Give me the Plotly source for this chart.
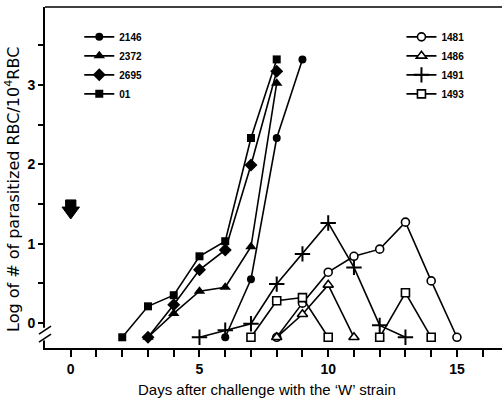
import plotly.graph_objects as go

BASE = -0.18  # "undetectable" level drawn below the axis break

days_2146 = [6, 7, 8, 9]
vals_2146 = [BASE, 0.55, 2.33, 3.32]
days_2372 = [3, 4, 5, 6, 7, 8]
vals_2372 = [BASE, 0.12, 0.40, 0.45, 0.96, 3.02]
days_2695 = [3, 4, 5, 6, 7, 8]
vals_2695 = [BASE, 0.23, 0.67, 0.92, 1.99, 3.17]
days_01 = [2, 3, 4, 5, 6, 7, 8]
vals_01 = [BASE, 0.21, 0.35, 0.84, 1.03, 2.33, 3.32]

days_1481 = [8, 9, 10, 11, 12, 13, 14, 15]
vals_1481 = [BASE, 0.25, 0.64, 0.84, 0.93, 1.27, 0.53, BASE]
days_1486 = [8, 9, 10, 11]
vals_1486 = [BASE, 0.11, 0.48, BASE]
days_1491 = [5, 6, 7, 8, 9, 10, 11, 12, 13]
vals_1491 = [BASE, -0.09, -0.01, 0.49, 0.87, 1.26, 0.70, -0.03, BASE]
days_1493 = [7, 8, 9, 10, 11, 12, 13, 14]
vals_1493 = [BASE, 0.28, 0.32, BASE, None, BASE, 0.38, BASE]

arrow_day = 0
arrow_level = 1.43

x_tick_vals = list(range(0, 17))
x_tick_text = [str(v) if v % 5 == 0 else "" for v in x_tick_vals]
y_tick_vals = [0, 0.5, 1, 1.5, 2, 2.5, 3, 3.5]
y_tick_text = ["0", "", "1", "", "2", "", "3", ""]

fig = go.Figure()

filled = [
    ("2146", days_2146, vals_2146, "circle", 8),
    ("2372", days_2372, vals_2372, "triangle-up", 10),
    ("2695", days_2695, vals_2695, "diamond", 10),
    ("01", days_01, vals_01, "square", 8),
]
for name, d, v, sym, sz in filled:
    fig.add_trace(go.Scatter(
        x=d, y=v, name=name, mode="lines+markers",
        line=dict(color="black", width=1.6),
        marker=dict(symbol=sym, size=sz, color="black"),
        legend="legend",
    ))

opened = [
    ("1481", days_1481, vals_1481, "circle", 8),
    ("1486", days_1486, vals_1486, "triangle-up", 9),
    ("1491", days_1491, vals_1491, "cross-thin", 11),
    ("1493", days_1493, vals_1493, "square", 8),
]
for name, d, v, sym, sz in opened:
    fig.add_trace(go.Scatter(
        x=d, y=v, name=name, mode="lines+markers", connectgaps=False,
        line=dict(color="black", width=1.6),
        marker=dict(symbol=sym, size=sz, color="white",
                    line=dict(color="black", width=2 if sym == "cross-thin" else 1.6)),
        legend="legend2",
    ))

font = "Liberation Sans, Arial, sans-serif"

shapes = [
    # top frame line
    dict(type="line", xref="paper", yref="paper", x0=0, x1=1, y0=1, y1=1,
         line=dict(color="black", width=1.5)),
    # axis break: gap + slashes
    dict(type="rect", xref="paper", yref="y", x0=-4/457, x1=4/457, y0=-0.22, y1=-0.06,
         fillcolor="white", line=dict(width=0)),
    dict(type="line", xref="paper", yref="y", x0=-6/457, x1=6/457, y0=-0.14, y1=-0.04,
         line=dict(color="black", width=1.6)),
    dict(type="line", xref="paper", yref="y", x0=-6/457, x1=6/457, y0=-0.24, y1=-0.14,
         line=dict(color="black", width=1.6)),
    # downward arrow marking the challenge
    dict(type="path", xref="x", yref="y",
         path=(f"M {arrow_day-0.2},{arrow_level+0.12} L {arrow_day+0.2},{arrow_level+0.12} "
               f"L {arrow_day+0.2},{arrow_level+0.03} L {arrow_day+0.34},{arrow_level+0.03} "
               f"L {arrow_day},{arrow_level-0.12} L {arrow_day-0.34},{arrow_level+0.03} "
               f"L {arrow_day-0.2},{arrow_level+0.03} Z"),
         fillcolor="black", line=dict(color="black", width=1)),
]

annotations = [
    dict(text="Log of # of parasitized RBC/10<sup>4</sup>RBC", textangle=-90,
         xref="paper", yref="paper", x=(12 - 45) / 457, y=(348 - 190) / 341,
         xanchor="center", yanchor="middle", showarrow=False,
         font=dict(size=16, family="DejaVu Sans, sans-serif")),
    dict(text="Days after challenge with the \u2018W\u2019 strain",
         xref="paper", yref="paper", x=(267 - 45) / 457, y=(348 - 390) / 341,
         xanchor="center", yanchor="middle", showarrow=False,
         font=dict(size=15, family=font)),
]

fig.update_layout(
    width=502, height=400,
    margin=dict(l=45, r=0, t=7, b=52),
    paper_bgcolor="white", plot_bgcolor="white",
    font=dict(family=font, color="black"),
    shapes=shapes,
    annotations=annotations,
    legend=dict(x=0.075, y=0.955, xanchor="left", yanchor="top",
                bgcolor="rgba(0,0,0,0)", font=dict(size=10, family=font, weight="bold"),
                itemwidth=30, tracegroupgap=0),
    legend2=dict(x=0.78, y=0.955, xanchor="left", yanchor="top",
                 bgcolor="rgba(0,0,0,0)", font=dict(size=10, family=font, weight="bold"),
                 itemwidth=30, tracegroupgap=0),
    xaxis=dict(range=[-1.0, 16.75], showgrid=False, zeroline=False,
               showline=True, linecolor="black", linewidth=2,
               ticks="outside", ticklen=7, tickwidth=1.5, tickcolor="black",
               tickvals=x_tick_vals, ticktext=x_tick_text,
               tickfont=dict(size=14, family=font, weight="bold")),
    yaxis=dict(range=[-0.315, 3.98], showgrid=False, zeroline=False,
               showline=True, linecolor="black", linewidth=2,
               ticks="outside", ticklen=5, tickwidth=1.5, tickcolor="black",
               tickvals=y_tick_vals, ticktext=y_tick_text,
               tickfont=dict(size=14, family=font, weight="bold")),
)

fig.write_html("out.html")
